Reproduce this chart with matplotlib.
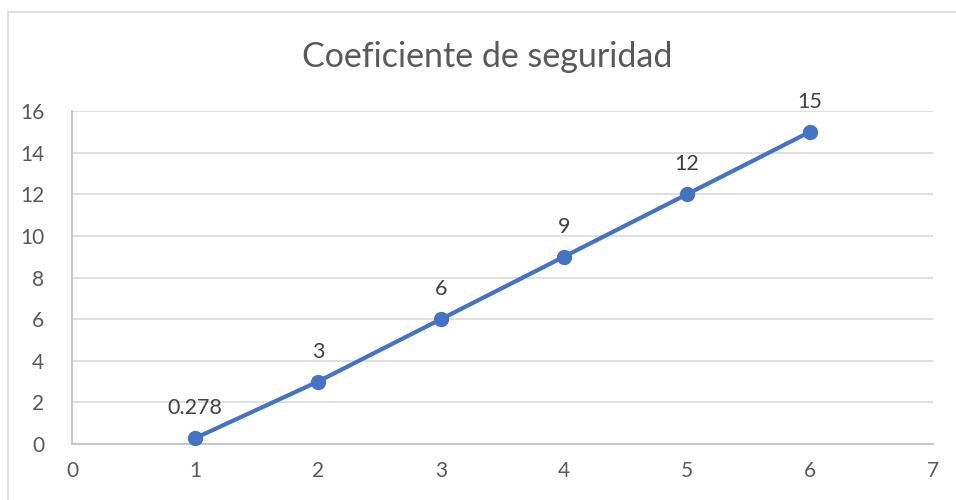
import matplotlib
matplotlib.use("Agg")
import matplotlib.pyplot as plt
from matplotlib.patches import Rectangle

x_vals = [1, 2, 3, 4, 5, 6]
y_vals = [0.278, 3, 6, 9, 12, 15]
labels = ["0.278", "3", "6", "9", "12", "15"]
x_ticks = [0, 1, 2, 3, 4, 5, 6, 7]
y_ticks = [0, 2, 4, 6, 8, 10, 12, 14, 16]
title = "Coeficiente de seguridad"

plt.rcParams['font.family'] = ['Lato', 'DejaVu Sans']

fig = plt.figure(figsize=(9.56, 5.0), dpi=100)
ax = fig.add_axes([72/956, 1-444/500, (933-72)/956, (444-111)/500])

# outer chart border
fig.patches.append(Rectangle((8/956, -0.1), 1.2, 1 - 12/500 + 0.1, transform=fig.transFigure,
                             fill=False, edgecolor='#d9d9d9', linewidth=1.2))

ax.plot(x_vals, y_vals, color='#4472C4', linewidth=3, marker='o', markersize=10,
        solid_capstyle='round', zorder=3, clip_on=False)
for xv, yv, lab in zip(x_vals, y_vals, labels):
    ax.annotate(lab, (xv, yv), xytext=(0, 30), textcoords='offset pixels',
                ha='center', va='center', fontsize=15.5, color='#404040')

ax.set_xlim(0, 7)
ax.set_ylim(0, 16)
ax.set_xticks(x_ticks)
ax.set_yticks(y_ticks)
ax.yaxis.grid(True, color='#d9d9d9', linewidth=1.2)
ax.set_axisbelow(True)
for s in ['top', 'right']:
    ax.spines[s].set_visible(False)
ax.spines['left'].set_color('#bfbfbf')
ax.spines['bottom'].set_color('#bfbfbf')
ax.spines['left'].set_linewidth(1.2)
ax.spines['bottom'].set_linewidth(1.2)
ax.tick_params(axis='both', length=0, labelsize=15, labelcolor='#595959')
ax.tick_params(axis='x', pad=12)
ax.tick_params(axis='y', pad=20)

fig.text(487/956, 1-57/500, title, ha='center', va='center', fontsize=24.5, color='#595959')

fig.savefig('out.png', dpi=100)
